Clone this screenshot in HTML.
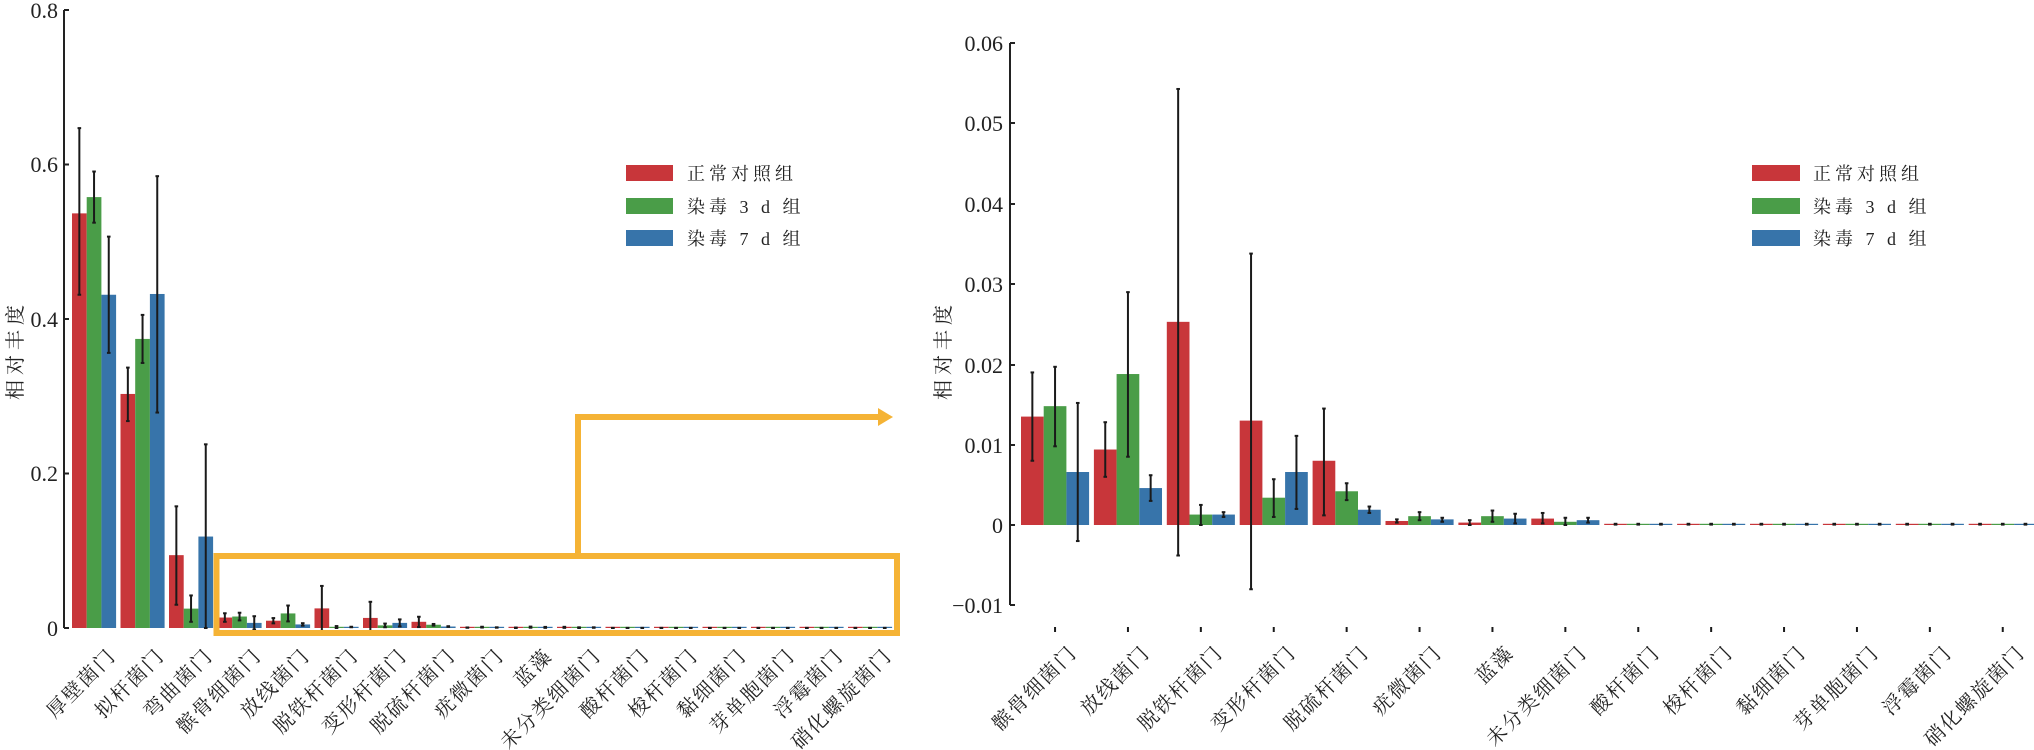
<!DOCTYPE html>
<html><head><meta charset="utf-8">
<style>
html,body{margin:0;padding:0;background:#fff;}
svg{display:block;}
text{font-family:"Liberation Serif","Noto Serif CJK SC",serif;fill:#222;}
.cj{font-family:"Liberation Serif","Noto Serif CJK SC",serif;font-size:20px;letter-spacing:2px;}
.lg{font-size:18px;letter-spacing:4px;}
.yl{font-size:20px;letter-spacing:5px;}
.tk{font-size:22px;}
</style></head>
<body>
<svg id="s" width="2034" height="750" viewBox="0 0 2034 750" xmlns="http://www.w3.org/2000/svg">
<g id="bars"></g>
<line x1="64" y1="10" x2="64" y2="628" stroke="#222" stroke-width="2"/>
<g stroke="#222" stroke-width="2">
<line x1="64" y1="10" x2="69" y2="10"/><line x1="64" y1="164.5" x2="69" y2="164.5"/><line x1="64" y1="319" x2="69" y2="319"/><line x1="64" y1="473.5" x2="69" y2="473.5"/><line x1="64" y1="628" x2="69" y2="628"/>
</g>
<g class="tk" text-anchor="end">
<text x="58" y="18">0.8</text><text x="58" y="172">0.6</text><text x="58" y="327">0.4</text><text x="58" y="481">0.2</text><text x="58" y="636">0</text>
</g>
<text class="yl" transform="translate(22,350) rotate(-90)" text-anchor="middle">相对丰度</text>
<line x1="1010" y1="43" x2="1010" y2="605" stroke="#222" stroke-width="2"/>
<g stroke="#222" stroke-width="2">
<line x1="1010" y1="43" x2="1015" y2="43"/><line x1="1010" y1="123" x2="1015" y2="123"/><line x1="1010" y1="204" x2="1015" y2="204"/><line x1="1010" y1="284" x2="1015" y2="284"/><line x1="1010" y1="365" x2="1015" y2="365"/><line x1="1010" y1="445" x2="1015" y2="445"/><line x1="1010" y1="525" x2="1015" y2="525"/><line x1="1010" y1="605" x2="1015" y2="605"/>
</g>
<g class="tk" text-anchor="end">
<text x="1003" y="51">0.06</text><text x="1003" y="131">0.05</text><text x="1003" y="212">0.04</text><text x="1003" y="292">0.03</text><text x="1003" y="373">0.02</text><text x="1003" y="453">0.01</text><text x="1003" y="533">0</text><text x="1003" y="613">−0.01</text>
</g>
<text class="yl" transform="translate(950,350) rotate(-90)" text-anchor="middle">相对丰度</text>
<rect x="626" y="165" width="47" height="16" fill="#c8363a"/>
<rect x="626" y="198" width="47" height="16" fill="#4a9d48"/>
<rect x="626" y="230" width="47" height="16" fill="#3774aa"/>
<text class="lg" x="687" y="180">正常对照组</text>
<text class="lg" x="687" y="213">染毒 3 d 组</text>
<text class="lg" x="687" y="245">染毒 7 d 组</text>
<rect x="1752" y="165" width="48" height="16" fill="#c8363a"/>
<rect x="1752" y="198" width="48" height="16" fill="#4a9d48"/>
<rect x="1752" y="230" width="48" height="16" fill="#3774aa"/>
<text class="lg" x="1813" y="180">正常对照组</text>
<text class="lg" x="1813" y="213">染毒 3 d 组</text>
<text class="lg" x="1813" y="245">染毒 7 d 组</text>
<rect x="216.5" y="556" width="680.5" height="77" fill="none" stroke="#f5b335" stroke-width="6"/>
<polyline points="578,556 578,417 880,417" fill="none" stroke="#f5b335" stroke-width="6"/>
<polygon points="878,408 893,417 878,426" fill="#f5b335"/>
<g class="cj" text-anchor="end">
<text transform="translate(117,657) rotate(-45)">厚壁菌门</text>
<text transform="translate(165.5,657) rotate(-45)">拟杆菌门</text>
<text transform="translate(214,657) rotate(-45)">弯曲菌门</text>
<text transform="translate(262.5,657) rotate(-45)">髌骨细菌门</text>
<text transform="translate(311,657) rotate(-45)">放线菌门</text>
<text transform="translate(359.5,657) rotate(-45)">脱铁杆菌门</text>
<text transform="translate(408,657) rotate(-45)">变形杆菌门</text>
<text transform="translate(456.5,657) rotate(-45)">脱硫杆菌门</text>
<text transform="translate(505,657) rotate(-45)">疣微菌门</text>
<text transform="translate(553.5,657) rotate(-45)">蓝藻</text>
<text transform="translate(602,657) rotate(-45)">未分类细菌门</text>
<text transform="translate(650.5,657) rotate(-45)">酸杆菌门</text>
<text transform="translate(699,657) rotate(-45)">梭杆菌门</text>
<text transform="translate(747.5,657) rotate(-45)">黏细菌门</text>
<text transform="translate(796,657) rotate(-45)">芽单胞菌门</text>
<text transform="translate(844.5,657) rotate(-45)">浮霉菌门</text>
<text transform="translate(893,657) rotate(-45)">硝化螺旋菌门</text>
</g>
<g class="cj" text-anchor="end">
<text transform="translate(1078,654) rotate(-45)">髌骨细菌门</text>
<text transform="translate(1151,654) rotate(-45)">放线菌门</text>
<text transform="translate(1224,654) rotate(-45)">脱铁杆菌门</text>
<text transform="translate(1297,654) rotate(-45)">变形杆菌门</text>
<text transform="translate(1370,654) rotate(-45)">脱硫杆菌门</text>
<text transform="translate(1443,654) rotate(-45)">疣微菌门</text>
<text transform="translate(1515,654) rotate(-45)">蓝藻</text>
<text transform="translate(1588,654) rotate(-45)">未分类细菌门</text>
<text transform="translate(1661,654) rotate(-45)">酸杆菌门</text>
<text transform="translate(1734,654) rotate(-45)">梭杆菌门</text>
<text transform="translate(1807,654) rotate(-45)">黏细菌门</text>
<text transform="translate(1880,654) rotate(-45)">芽单胞菌门</text>
<text transform="translate(1953,654) rotate(-45)">浮霉菌门</text>
<text transform="translate(2026,654) rotate(-45)">硝化螺旋菌门</text>
</g>
</svg>
<script>
(function(){
var D=[
[[0.535,0.43,0.645],[0.556,0.523,0.589],[0.43,0.355,0.505]],
[[0.302,0.267,0.336],[0.373,0.342,0.404],[0.431,0.278,0.583]],
[[0.094,0.03,0.157],[0.025,0.008,0.042],[0.118,0,0.237]],
[[0.0135,0.008,0.019],[0.0148,0.0098,0.0197],[0.0066,-0.002,0.0152]],
[[0.0094,0.006,0.0128],[0.0188,0.0085,0.029],[0.0046,0.003,0.0062]],
[[0.0253,-0.0038,0.0543],[0.0013,0,0.0025],[0.0013,0.001,0.0016]],
[[0.013,-0.008,0.0338],[0.0034,0.001,0.0057],[0.0066,0.002,0.0111]],
[[0.008,0.0012,0.0145],[0.0042,0.0031,0.0052],[0.0019,0.0015,0.0023]],
[[0.0005,0.0003,0.0007],[0.0011,0.0006,0.0016],[0.0007,0.0004,0.0009]],
[[0.0003,0,0.0006],[0.0011,0.0004,0.0018],[0.0008,0.0002,0.0014]],
[[0.0008,0.0002,0.0015],[0.0004,0,0.0009],[0.0006,0.0003,0.0009]]
];
for(var k=0;k<6;k++)D.push([[0.0001,0.00005,0.00015],[0.0001,0.00005,0.00015],[0.0001,0.00005,0.00015]]);
var C=["#c8363a","#4a9d48","#3774aa"];
var NS="http://www.w3.org/2000/svg";
var g=document.getElementById("bars");
function el(t,a){var e=document.createElementNS(NS,t);for(var k in a)e.setAttribute(k,a[k]);g.appendChild(e);}
function ln(x1,y1,x2,y2,w){el("line",{x1:x1,y1:y1,x2:x2,y2:y2,stroke:"#1a1a1a","stroke-width":w||2});}
function draw(x0,pitch,bw,y0,sc,start,n,tick){
 for(var i=0;i<n;i++){var d=D[start+i];var gx=x0+i*pitch;
  for(var j=0;j<3;j++){var x=gx+j*bw,v=d[j][0];var hh=Math.max(sc*v,1.2);
   el("rect",{x:x,y:y0-hh,width:bw,height:hh,fill:C[j]});}
  for(var j=0;j<3;j++){var cx=gx+j*bw+bw/2;var a=y0-sc*d[j][1],b=y0-sc*d[j][2];
   ln(cx,a,cx,b);ln(cx-1.8,a,cx+1.8,a);ln(cx-1.8,b,cx+1.8,b);}
  if(tick){var c=gx+1.5*bw;ln(c,627,c,632);}
 }
}
draw(72,48.5,14.7,628,775,0,17,false);
draw(1021,72.9,22.7,525,8030,3,14,true);
})();
</script>
</body></html>
